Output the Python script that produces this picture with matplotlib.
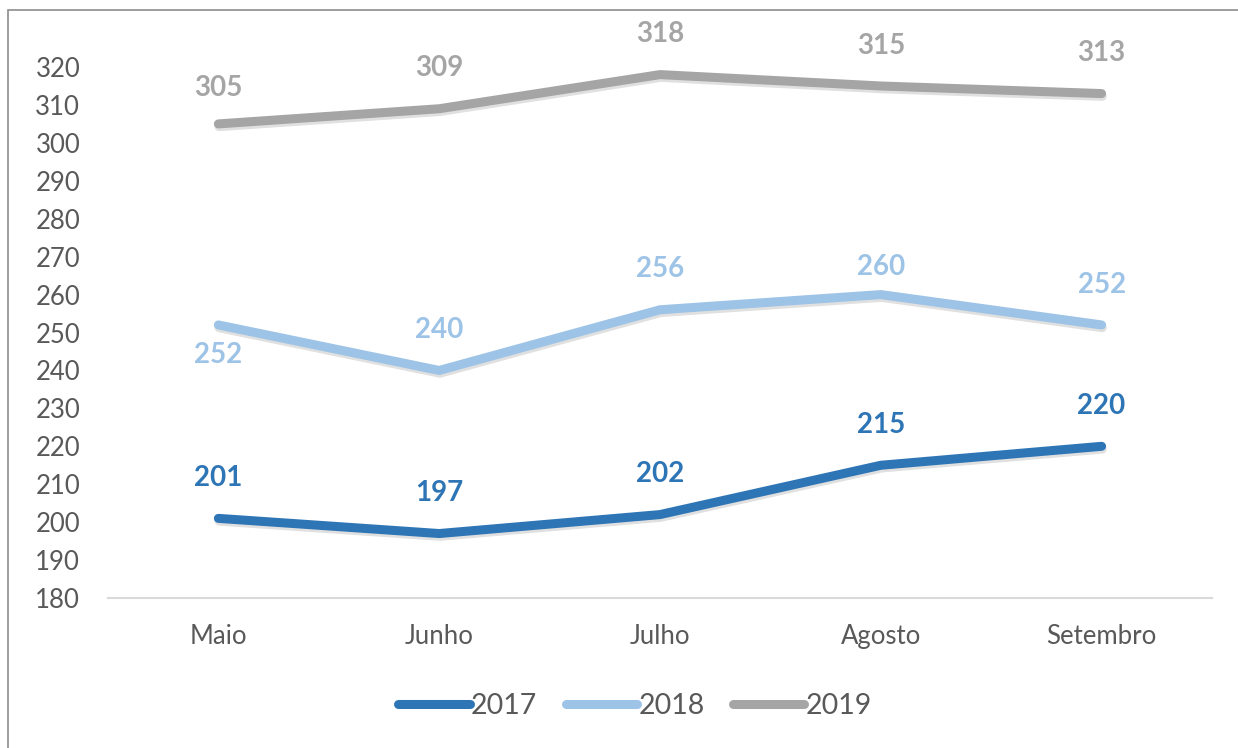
import matplotlib
matplotlib.use('Agg')
import matplotlib.pyplot as plt
import matplotlib.patheffects as pe
from matplotlib.patches import Rectangle

meses = ['Maio', 'Junho', 'Julho', 'Agosto', 'Setembro']
anos = ['2017', '2018', '2019']
v2017 = [201, 197, 202, 215, 220]
v2018 = [252, 240, 256, 260, 252]
v2019 = [305, 309, 318, 315, 313]
yticks = list(range(180, 321, 10))

cores = ['#2E75B6', '#9DC3E6', '#A5A5A5']
series = [v2017, v2018, v2019]

plt.rcParams['font.family'] = ['Lato', 'DejaVu Sans']

fig = plt.figure(figsize=(12.38, 7.48), dpi=100)
ax = fig.add_axes([0.0872, 0.2005, 0.979 - 0.0872, 0.9104 - 0.2005])

# moldura cinza da figura
fig.patches.append(Rectangle((8/1238, -0.1), 1.2, 0.1 + (748-10)/748, transform=fig.transFigure,
                             fill=False, edgecolor='#8C8C8C', linewidth=1.2))

x = list(range(len(meses)))
sombra = [pe.SimpleLineShadow(offset=(0.5, -2), shadow_color='#000000', alpha=0.12), pe.Normal()]
for vals, cor, ano in zip(series, cores, anos):
    ax.plot(x, vals, color=cor, lw=6.5, solid_capstyle='round', solid_joinstyle='round',
            label=ano, path_effects=sombra)
    for i, v in enumerate(vals):
        if ano == '2018' and i == 0:
            dy = -22   # rotulo abaixo
        elif ano == '2018' and i == 3:
            dy = 20
        elif ano == '2019' and i == 0:
            dy = 26
        else:
            dy = 29
        ax.annotate(str(v), (i, v), xytext=(0, dy), textcoords='offset points',
                    ha='center', va='center', fontsize=20, fontweight='bold',
                    color=cor, annotation_clip=False)

ax.set_xlim(-0.5, len(meses) - 0.5)
ax.set_ylim(180, 320)
ax.set_yticks(yticks)
ax.set_xticks(x)
ax.set_xticklabels(meses)
ax.tick_params(length=0, labelsize=18.5, labelcolor='#595959')
ax.tick_params(axis='x', pad=19)
ax.tick_params(axis='y', pad=20)
for s in ['top', 'right', 'left']:
    ax.spines[s].set_visible(False)
ax.spines['bottom'].set_color('#D9D9D9')
ax.spines['bottom'].set_linewidth(1.5)

leg = fig.legend(loc='center', bbox_to_anchor=(0.513, 1 - 706/748), ncol=3, frameon=False,
                 fontsize=20.5, handlelength=2.5, handletextpad=0.05, columnspacing=1.0)
for t in leg.get_texts():
    t.set_color('#595959')
for h in leg.get_lines():
    h.set_path_effects([])

fig.savefig('out.png', dpi=100)
